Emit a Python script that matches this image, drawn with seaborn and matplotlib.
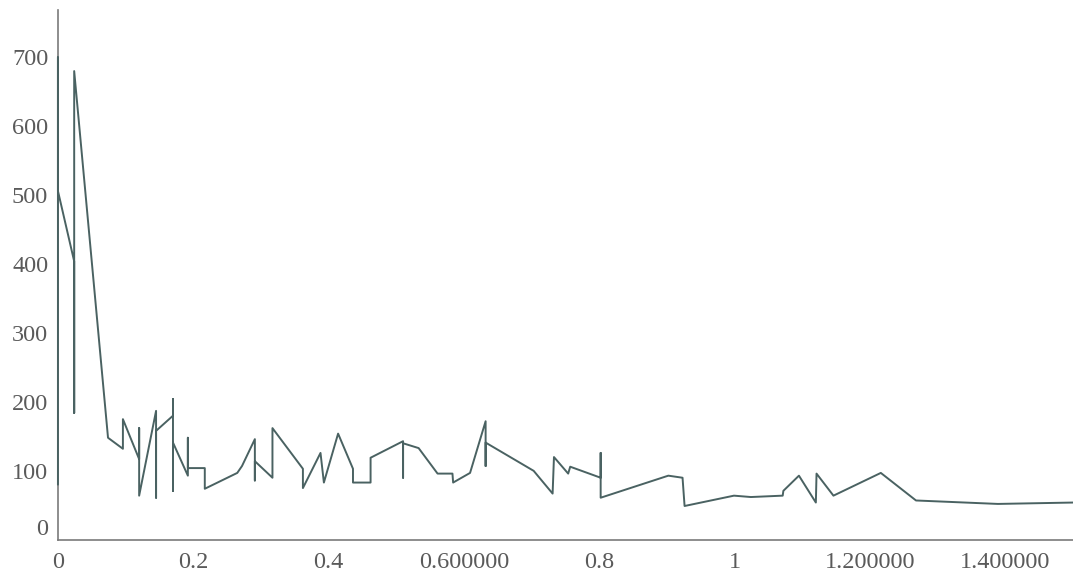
import numpy as np
import pandas as pd
import matplotlib
matplotlib.use('Agg')
import matplotlib.pyplot as plt
import seaborn as sns

# points in drawing order (x repeats give the vertical strokes)
xs = [0, 0, 0,
      0.024, 0.024, 0.024,
      0.074,
      0.096, 0.096,
      0.12, 0.12, 0.12,
      0.145, 0.145, 0.145,
      0.17, 0.17, 0.17, 0.17,
      0.192, 0.192, 0.192,
      0.217, 0.217,
      0.265, 0.272,
      0.291, 0.291, 0.291,
      0.317, 0.317,
      0.362, 0.362,
      0.388, 0.393, 0.414,
      0.436, 0.436,
      0.462, 0.462,
      0.51, 0.51, 0.51,
      0.533, 0.561, 0.583, 0.584, 0.609,
      0.632, 0.632, 0.632,
      0.703, 0.731, 0.733, 0.754, 0.757,
      0.802, 0.802, 0.802,
      0.902, 0.923, 0.926, 0.999, 1.024, 1.071, 1.072,
      1.095, 1.12, 1.121, 1.146, 1.216, 1.268, 1.389, 1.5]
ys = [80, 700, 506,
      404, 184, 680,
      148,
      132, 175,
      117, 162, 64,
      187, 61, 158,
      180, 204, 71, 141,
      93, 148, 104,
      104, 74,
      97, 107,
      146, 86, 114,
      90, 162,
      103, 75,
      126, 83, 154,
      103, 83,
      83, 119,
      143, 90, 140,
      133, 96, 96, 83, 97,
      172, 107, 141,
      100, 67, 120, 96, 106,
      90, 126, 61,
      93, 90, 49, 64, 62, 64, 71,
      93, 54, 96, 64, 97, 57, 52, 54]

xticks = [0, 0.2, 0.4, 0.6, 0.8, 1.0, 1.2, 1.4]
xlabels = ['0', '0.2', '0.4', '0.600000', '0.8', '1', '1.200000', '1.400000']
yticks = [0, 100, 200, 300, 400, 500, 600, 700]

df = pd.DataFrame({'x': xs, 'y': ys})

sns.set_style('white')
plt.rcParams['font.family'] = ['Liberation Serif', 'DejaVu Serif']

fig = plt.figure(figsize=(10.73, 5.73), dpi=100)
ax = fig.add_axes([0.054, 0.058, 0.946, 0.925])
sns.lineplot(data=df, x='x', y='y', sort=False, estimator=None,
             color='#4a6262', linewidth=1.4, ax=ax)
for ln in ax.get_lines():
    ln.set_clip_on(False)
    ln.set_zorder(5)

ax.set_xlim(0, 1.5)
ax.set_ylim(0, 769)
ax.set_xticks(xticks)
ax.set_xticklabels(xlabels)
ax.set_yticks(yticks)
ax.set_yticklabels([str(v) for v in yticks])
ax.tick_params(length=0, labelsize=17.5, labelcolor='#5a5a5a')
ax.tick_params(axis='x', pad=9)
ax.tick_params(axis='y', pad=7)
ax.set_xlabel('')
ax.set_ylabel('')
for s in ['top', 'right']:
    ax.spines[s].set_visible(False)
for s in ['left', 'bottom']:
    ax.spines[s].set_color('#7a7a7a')
    ax.spines[s].set_linewidth(1.2)
ax.get_yticklabels()[0].set_va('bottom')

fig.savefig('out.png', dpi=100)
